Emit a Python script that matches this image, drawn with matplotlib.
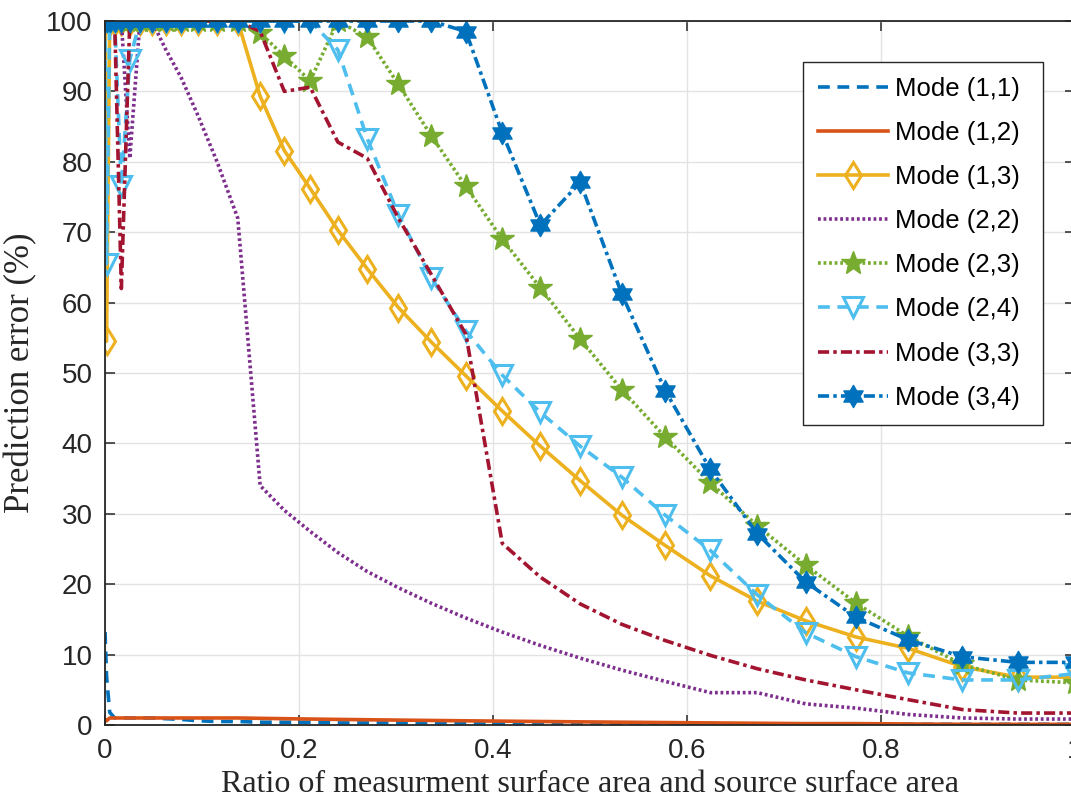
import numpy as np
import matplotlib
matplotlib.use('Agg')
import matplotlib.pyplot as plt
from matplotlib.path import Path

plt.rcParams['lines.scale_dashes'] = False

# Ratio of measurement surface area to source surface area
ratio = [0.0001, 0.0016, 0.0049, 0.0100, 0.0169, 0.0256, 0.0361, 0.0484, 0.0625,
         0.0784, 0.0961, 0.1156, 0.1369, 0.1600, 0.1849, 0.2116, 0.2401, 0.2704,
         0.3025, 0.3364, 0.3721, 0.4096, 0.4489, 0.4900, 0.5329, 0.5776, 0.6241,
         0.6724, 0.7225, 0.7744, 0.8281, 0.8836, 0.9409, 1.0000]

# Prediction error (%) per mode
mode_11 = [13.2, 7.0, 1.8, 1.0, 1.0, 1.0, 1.0, 1.0, 0.9, 0.8, 0.6, 0.5, 0.5, 0.4,
           0.4, 0.4, 0.3, 0.3, 0.3, 0.3, 0.3, 0.2, 0.2, 0.2, 0.2, 0.2, 0.2, 0.1,
           0.1, 0.1, 0.1, 0.1, 0.1, 0.1]
mode_12 = [0.8, 0.6, 1.0, 1.0, 1.0, 1.0, 1.0, 1.0, 1.0, 1.0, 1.0, 1.0, 1.0, 0.95,
           0.9, 0.85, 0.8, 0.75, 0.7, 0.65, 0.6, 0.55, 0.5, 0.45, 0.4, 0.35, 0.3,
           0.25, 0.2, 0.2, 0.15, 0.1, 0.1, 0.1]
mode_13 = [100, 54.5, 100, 100, 100, 100, 100, 100, 100, 100, 100, 100, 100, 89.3,
           81.6, 76.2, 70.3, 64.8, 59.3, 54.4, 49.6, 44.6, 39.6, 34.7, 29.8, 25.5,
           21.2, 17.6, 14.8, 12.5, 10.9, 8.3, 6.8, 6.8]
mode_22 = [100, 100, 100, 100, 100, 80.5, 100, 100, 96, 92, 86.5, 80, 72, 34,
           30.5, 27.5, 24.5, 21.8, 19.5, 17.3, 15.2, 13.2, 11.3, 9.5, 7.8, 6.2,
           4.6, 4.6, 3.0, 2.4, 1.5, 1.0, 0.85, 0.85]
mode_23 = [100, 100, 100, 100, 100, 100, 100, 100, 100, 100, 100, 100, 100, 98.3,
           95.0, 91.5, 100, 97.7, 91.0, 83.7, 76.5, 69.0, 62.1, 54.8, 47.6, 40.9,
           34.4, 28.3, 22.7, 17.3, 12.6, 8.6, 6.4, 6.0]
mode_24 = [100, 65.5, 100, 100, 76.5, 94.5, 100, 100, 100, 100, 100, 100, 100, 100,
           100, 100, 95.9, 83.3, 72.5, 63.5, 56.0, 49.7, 44.4, 39.6, 35.2, 29.8,
           24.8, 18.5, 13.1, 9.7, 7.4, 6.4, 6.4, 7.3]
mode_33 = [100, 100, 100, 100, 62, 100, 100, 100, 100, 100, 100, 100, 100, 98.5,
           90.0, 90.6, 82.8, 80.5, 72.0, 64.0, 55.5, 25.8, 21.0, 17.2, 14.3, 12.0,
           9.9, 8.0, 6.4, 5.0, 3.6, 2.2, 1.7, 1.7]
mode_34 = [100, 100, 100, 100, 100, 100, 100, 100, 100, 100, 100, 100, 100, 100,
           100, 100, 100, 100, 100, 100, 98.5, 84.1, 71.0, 77.1, 61.2, 47.5, 36.3,
           27.2, 20.3, 15.3, 12.1, 9.7, 8.9, 8.9]

# six-pointed star marker (MATLAB hexagram)
ang = np.pi / 2 + np.arange(12) * np.pi / 6
rad = np.where(np.arange(12) % 2 == 0, 1.0, 1 / np.sqrt(3))
verts = np.column_stack([rad * np.cos(ang), rad * np.sin(ang)])
hexagram = Path(np.vstack([verts, verts[:1]]), closed=True)

blue = '#0072BD'
orange = '#D95319'
yellow = '#EDB120'
purple = '#7E2F8E'
green = '#77AC30'
cyan = '#4DBEEE'
red = '#A2142F'

dashed = (0, (8.5, 5.5))
dotted = (0, (2.0, 2.0))
dashdot = (0, (8.0, 3.0, 2.5, 3.0))

lw = 2.6
fig = plt.figure(figsize=(10.71, 8.08), dpi=100)
ax = fig.add_axes([0.098, 0.1027, 0.9057, 0.8713])

ax.plot(ratio, mode_11, color=blue, ls=dashed, lw=lw, label='Mode (1,1)')
ax.plot(ratio, mode_12, color=orange, ls='-', lw=lw, label='Mode (1,2)')
ax.plot(ratio, mode_13, color=yellow, ls='-', lw=lw, marker='d', ms=13,
        mfc='none', mew=2.2, label='Mode (1,3)')
ax.plot(ratio, mode_22, color=purple, ls=dotted, lw=lw, label='Mode (2,2)')
ax.plot(ratio, mode_23, color=green, ls=dotted, lw=lw, marker='*', ms=18,
        mfc=green, mew=1.0, label='Mode (2,3)')
ax.plot(ratio, mode_24, color=cyan, ls=dashed, lw=lw, marker='v', ms=14,
        mfc='none', mew=2.2, label='Mode (2,4)')
ax.plot(ratio, mode_33, color=red, ls=dashdot, lw=lw, label='Mode (3,3)')
ax.plot(ratio, mode_34, color=blue, ls=dashdot, lw=lw, marker=hexagram, ms=16,
        mfc=blue, mew=1.0, label='Mode (3,4)')

ax.set_xlim(0, 1)
ax.set_ylim(0, 100)
ax.set_xticks([0, 0.2, 0.4, 0.6, 0.8, 1])
ax.set_xticklabels(['0', '0.2', '0.4', '0.6', '0.8', '1'])
ax.set_yticks(np.arange(0, 101, 10))
ax.grid(True, color='#e3e3e3', lw=1.0)
ax.set_axisbelow(True)
ax.tick_params(direction='in', length=7, width=1.1, top=True, right=True,
               labelsize=20, colors='#262626', pad=9)
for lab in ax.get_xticklabels() + ax.get_yticklabels():
    lab.set_fontfamily('Liberation Sans')
for sp in ax.spines.values():
    sp.set_color('#262626')
    sp.set_linewidth(1.3)

ax.set_xlabel('Ratio of measurment surface area and source surface area',
              family='Liberation Serif', fontsize=23, color='#262626', labelpad=5)
ax.set_ylabel('Prediction error (%)', family='Liberation Serif', fontsize=25,
              color='#262626', labelpad=6)

leg = ax.legend(loc='upper left', bbox_to_anchor=(0.7196, 0.426, 0.2474, 0.516),
                mode='expand',
                prop={'family': 'Liberation Sans', 'size': 18.5},
                frameon=True, fancybox=False, framealpha=1, edgecolor='#262626',
                handlelength=2.7, handletextpad=0.3, labelspacing=0.78,
                borderpad=0.6, borderaxespad=0)
leg.get_frame().set_linewidth(1.0)

fig.savefig('out.png', dpi=100)
